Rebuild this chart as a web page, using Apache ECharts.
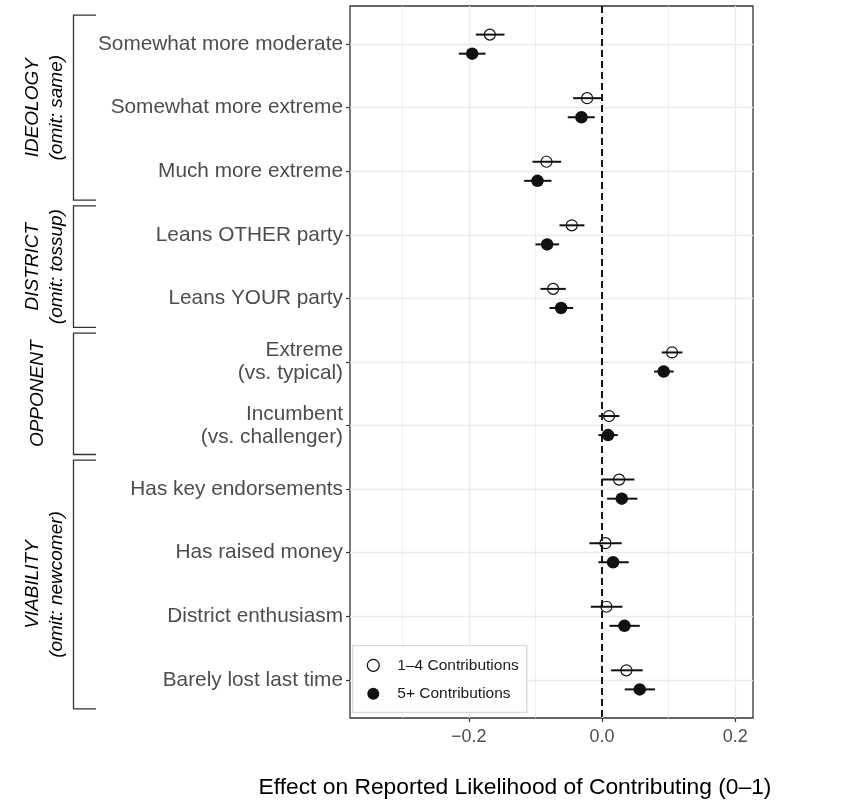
<!DOCTYPE html>
<html>
<head>
<meta charset="utf-8">
<script src="https://cdn.jsdelivr.net/npm/echarts@6/dist/echarts.min.js"></script>
<style>
  html, body { margin: 0; padding: 0; background: #ffffff; }
  #chart { width: 843px; height: 806px; }
</style>
</head>
<body>
<div id="chart"></div>
<script>
// Attribute levels, top to bottom
const categories = [
  'Somewhat more moderate',
  'Somewhat more extreme',
  'Much more extreme',
  'Leans OTHER party',
  'Leans YOUR party',
  'Extreme\n(vs. typical)',
  'Incumbent\n(vs. challenger)',
  'Has key endorsements',
  'Has raised money',
  'District enthusiasm',
  'Barely lost last time'
];

// Attribute groups (index range into categories)
const groups = [
  { name: 'IDEOLOGY', note: '(omit: same)', first: 0, last: 2 },
  { name: 'DISTRICT', note: '(omit: tossup)', first: 3, last: 4 },
  { name: 'OPPONENT', note: '', first: 5, last: 6 },
  { name: 'VIABILITY', note: '(omit: newcomer)', first: 7, last: 10 }
];

const seriesNames = ['1\u20134 Contributions', '5+ Contributions'];

// 1-4 contributions: estimate and interval bounds
const fewEst = [-0.1685, -0.0225, -0.0835, -0.0455, -0.0735, 0.105, 0.0105, 0.0255, 0.005, 0.0065, 0.0365];
const fewLo  = [-0.1895, -0.0435, -0.1045, -0.064, -0.0925, 0.0895, -0.005, 0.0, -0.019, -0.017, 0.0135];
const fewHi  = [-0.1465, -0.001, -0.0615, -0.0265, -0.0545, 0.1205, 0.026, 0.0485, 0.0295, 0.0305, 0.061];

// 5+ contributions: estimate and interval bounds
const manyEst = [-0.195, -0.031, -0.097, -0.0825, -0.0615, 0.0925, 0.009, 0.0295, 0.0165, 0.0335, 0.0565];
const manyLo  = [-0.215, -0.0515, -0.117, -0.100, -0.079, 0.078, -0.0055, 0.0075, -0.0055, 0.011, 0.034];
const manyHi  = [-0.175, -0.011, -0.076, -0.0645, -0.0435, 0.1075, 0.0235, 0.053, 0.040, 0.0565, 0.0795];

// x axis ticks
const majorTicks = [-0.2, 0.0, 0.2];
const minorTicks = [-0.3, -0.1, 0.1];

const xTitle = 'Effect on Reported Likelihood of Contributing (0\u20131)';

// ---- layout / style constants ----
const FONT = '"Liberation Sans", Arial, Helvetica, sans-serif';
const X_MIN = -0.3784, X_MAX = 0.2265;
const Y_MIN = -0.6, Y_MAX = categories.length - 1 + 0.6;
const DODGE = 0.15;
const BRACKET_PAD = 0.455;
const INK = '#111111';
const rowIdx = categories.map((_, i) => i);
// horizontal placement of the group name / note text columns
const NAME_X = 33, NOTE_X = 57, SINGLE_X = 38;

function errorBarSeries(lo, hi, shift) {
  return {
    type: 'custom',
    z: 3,
    silent: true,
    data: lo.map((v, i) => [v, hi[i], i + shift]),
    encode: { x: [0, 1], y: 2 },
    renderItem: function (params, api) {
      const a = api.coord([api.value(0), api.value(2)]);
      const b = api.coord([api.value(1), api.value(2)]);
      return {
        type: 'line',
        shape: { x1: a[0], y1: a[1], x2: b[0], y2: b[1] },
        style: { stroke: INK, lineWidth: 2 }
      };
    }
  };
}

const fmtTick = v => (Math.abs(v) < 1e-9 ? '0.0' : v.toFixed(1).replace('-', '\u2212'));

const option = {
  animation: false,
  backgroundColor: '#ffffff',
  textStyle: { fontFamily: FONT },
  grid: {
    left: 350, right: 90, top: 6, bottom: 88,
    show: true, borderColor: '#333333', borderWidth: 1.3,
    backgroundColor: 'transparent',
    containLabel: false,
    outerBoundsMode: 'none'
  },
  xAxis: {
    type: 'value',
    min: X_MIN, max: X_MAX,
    axisLine: { show: false, onZero: false },
    axisTick: { show: true, customValues: majorTicks, length: 4, lineStyle: { color: '#333333', width: 1.2 } },
    axisLabel: { customValues: majorTicks, formatter: fmtTick, fontSize: 18, color: '#4d4d4d', margin: 10, fontFamily: FONT },
    splitLine: { show: true, lineStyle: { color: '#ebebeb', width: 1.3 } }
  },
  yAxis: {
    type: 'value',
    inverse: true,
    min: Y_MIN, max: Y_MAX,
    axisLine: { show: false, onZero: false },
    axisTick: { show: true, customValues: rowIdx, length: 4, lineStyle: { color: '#333333', width: 1.2 } },
    axisLabel: {
      customValues: rowIdx,
      formatter: v => categories[Math.round(v)],
      fontSize: 20.8, color: '#4d4d4d', margin: 7, lineHeight: 23.5, align: 'right', fontFamily: FONT
    },
    splitLine: { show: true, lineStyle: { color: '#ebebeb', width: 1.3 } }
  },
  legend: {
    data: seriesNames,
    orient: 'vertical',
    left: 352.7, top: 645.7,
    padding: [11.1, 8, 10, 14],
    itemWidth: 12, itemHeight: 12, itemGap: 11.5,
    backgroundColor: '#ffffff',
    borderColor: '#d9d9d9', borderWidth: 1.3, borderRadius: 0,
    itemStyle: { borderWidth: 1.2 },
    textStyle: { fontSize: 15.5, color: '#1a1a1a', padding: [0, 0, 0, 13], lineHeight: 17, fontFamily: FONT },
    selectedMode: false
  },
  series: [
    Object.assign(errorBarSeries(fewLo, fewHi, -DODGE), {
      markLine: {
        silent: true,
        symbol: 'none',
        label: { show: false },
        z: 1,
        data: minorTicks.map(v => ({ xAxis: v, lineStyle: { color: '#ebebeb', width: 0.8, type: 'solid' } }))
          .concat([{ xAxis: 0, lineStyle: { color: '#000000', width: 1.8, type: [7, 4] } }])
      }
    }),
    {
      name: seriesNames[0],
      type: 'scatter',
      z: 4,
      symbol: 'circle',
      symbolSize: 11,
      data: fewEst.map((v, i) => [v, i - DODGE]),
      itemStyle: { color: 'rgba(255,255,255,0)', borderColor: INK, borderWidth: 1.2, opacity: 1 }
    },
    errorBarSeries(manyLo, manyHi, DODGE),
    {
      name: seriesNames[1],
      type: 'scatter',
      z: 4,
      symbol: 'circle',
      symbolSize: 12.5,
      data: manyEst.map((v, i) => [v, i + DODGE]),
      itemStyle: { color: INK, borderWidth: 0, opacity: 1 }
    }
  ]
};

const chart = echarts.init(document.getElementById('chart'), null, { renderer: 'canvas' });
chart.setOption(option);

// Group brackets, group labels and the x-axis title
function decorate() {
  const rowY = r => chart.convertToPixel({ gridIndex: 0 }, [0, r])[1];
  const BRACKET_X = 73.5, BRACKET_TIP = 96;
  const elems = [];
  groups.forEach(g => {
    const y0 = rowY(g.first - BRACKET_PAD);
    const y1 = rowY(g.last + BRACKET_PAD);
    const yc = (y0 + y1) / 2;
    elems.push({
      type: 'polyline',
      silent: true,
      shape: { points: [[BRACKET_TIP, y0], [BRACKET_X, y0], [BRACKET_X, y1], [BRACKET_TIP, y1]] },
      style: { stroke: '#333333', lineWidth: 1.3, fill: null }
    });
    const texts = g.note ? [[g.name, NAME_X], [g.note, NOTE_X]] : [[g.name, SINGLE_X]];
    texts.forEach(([txt, x]) => {
      elems.push({
        type: 'text',
        silent: true,
        x: x, y: yc,
        rotation: Math.PI / 2,
        style: {
          text: txt, fill: '#000000',
          fontSize: 19, fontStyle: 'italic', fontFamily: FONT,
          align: 'center', verticalAlign: 'middle'
        }
      });
    });
  });
  elems.push({
    type: 'text',
    silent: true,
    x: 515, y: 788,
    style: {
      text: xTitle, fill: '#000000',
      fontSize: 22.8, fontFamily: FONT,
      align: 'center', verticalAlign: 'middle'
    }
  });
  chart.setOption({ graphic: elems });
}
decorate();
</script>
</body>
</html>
